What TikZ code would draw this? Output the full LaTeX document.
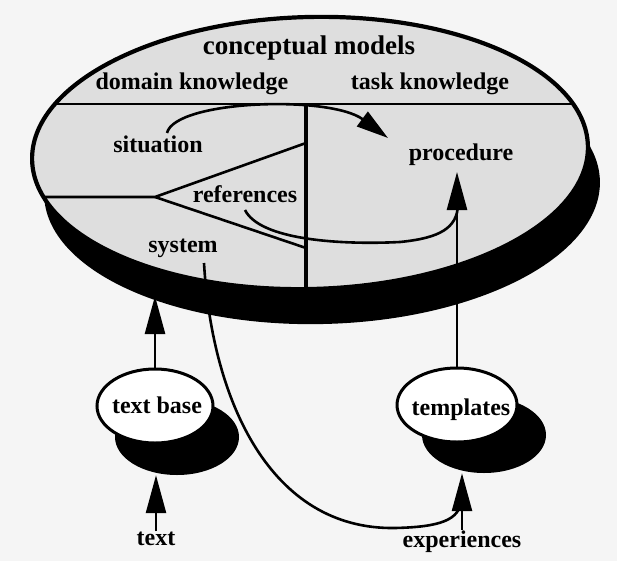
\documentclass[tikz,border=0pt]{standalone}
\usepackage{fontspec}
\setmainfont{Liberation Serif}
\usetikzlibrary{arrows.meta,shapes.geometric}
\begin{document}
\begin{tikzpicture}[x=1pt,y=-1pt,
  lbl/.style={font=\fontsize{24}{28}\selectfont\bfseries, inner sep=0pt, anchor=base},
  ttl/.style={font=\fontsize{27}{30}\selectfont\bfseries, inner sep=0pt, anchor=base},
  ln/.style={line width=2.6pt},
  bigarrow/.style={-{Triangle[length=38pt,width=20pt]}},
  curvearrow/.style={-{Triangle[length=32pt,width=18pt]}},
  smallE/.style={ellipse, inner sep=0pt, minimum height=74pt},
]
\fill[black!4] (0,0) rectangle (617,561);
\useasboundingbox (0,0) rectangle (617,561);

% big disc: shadow, face, partition lines, rim
\fill[black] (322,188) ellipse [x radius=278pt, y radius=136pt, rotate=1.5];
\fill[black!13] (310,153) ellipse [x radius=278pt, y radius=136pt, rotate=1.5];
\coordinate (apex) at (155,197);
\coordinate (upEnd) at (306,143);
\coordinate (lowEnd) at (306,248);
\coordinate (leftEnd) at (0,197);
\coordinate (hL) at (0,104);
\coordinate (hR) at (617,104);
\coordinate (vTop) at (306,104);
\coordinate (vBot) at (306,320);
\begin{scope}
  \clip (310,153) ellipse [x radius=278pt, y radius=136pt, rotate=1.5];
  \draw[ln] (hL) -- (hR);
  \draw[ln] (leftEnd) -- (apex) -- (upEnd);
  \draw[ln] (apex) -- (lowEnd);
  \draw[line width=3.2pt] (vTop) -- (vBot);
\end{scope}
\draw[line width=4.2pt] (310,153) ellipse [x radius=278pt, y radius=136pt, rotate=1.5];

% labels inside the disc
\node[ttl] (cm) at (309,55) {conceptual models};
\node[lbl] (dk) at (192,90) {domain knowledge};
\node[lbl] (tk) at (430,90) {task knowledge};
\node[lbl] (sit) at (158,153) {situation};
\node[lbl] (proc) at (461,161) {procedure};
\node[lbl] (ref) at (245,202) {references};
\node[lbl] (sys) at (183,252) {system};

% small discs
\node[smallE, fill=black, minimum width=124pt, minimum height=76pt] (tbS) at (177,437) {};
\node[smallE, fill=white, draw, line width=3pt, minimum width=116pt] (tbE) at (155,406) {};
\node[lbl] (tb) at (157,413) {text base};
\node[smallE, fill=black, minimum width=124pt, minimum height=76pt] (tmS) at (484,435) {};
\node[smallE, fill=white, draw, line width=3pt, minimum width=120pt] (tmE) at (457,405) {};
\node[lbl] (tm) at (461,415) {templates};
\node[lbl] (txt) at (156,545) {text};
\node[lbl] (exp) at (462,547) {experiences};

% connector end points
\coordinate (sitS) at (167,133);
\coordinate (sitTip) at (388,138);
\coordinate (refS) at (245,210);
\coordinate (join1) at (458,205);
\coordinate (sysS) at (204,263);
\coordinate (join2) at (461,500);
\coordinate (procTip) at (457,172);
\coordinate (cmTip) at (155,296);

% connectors
\draw[ln, curvearrow] (sitS) .. controls (175,100) and (330,95) .. (sitTip);
\draw[ln] (refS) .. controls (260,240) and (340,245) .. (400,242)
          .. controls (440,238) and (457,228) .. (join1);
\draw[ln] (sysS) .. controls (212,400) and (270,530) .. (395,528)
          .. controls (440,527) and (460,520) .. (join2);
\draw[ln, bigarrow] (tmE.north) -- (procTip);
\draw[ln, bigarrow] (tbE.north) -- (cmTip);
\draw[ln, bigarrow] (txt.north) -- (txt.north |- tbS.south);
\draw[ln, bigarrow] (exp.north) -- (exp.north |- tmS.south);
\end{tikzpicture}
\end{document}
